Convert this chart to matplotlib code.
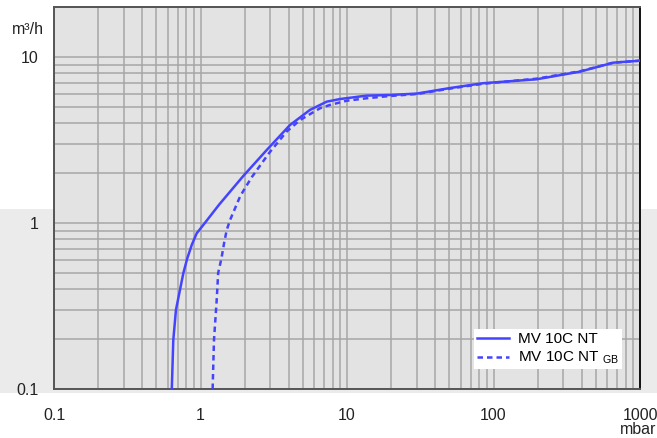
import matplotlib
matplotlib.use("Agg")
import matplotlib.pyplot as plt
from matplotlib.patches import Rectangle
from matplotlib.ticker import LogLocator, FixedLocator, NullFormatter

plt.rcParams['font.family'] = ['Liberation Sans', 'DejaVu Sans']

# pressure (mbar) vs pumping speed (m3/h)
nt_p = [0.637, 0.652, 0.68, 0.764, 0.812, 0.871, 0.942, 1.045, 1.34, 1.96, 2.83, 4.08,
        5.59, 7.27, 8.96, 13.6, 19.6, 30, 50.5, 85, 197, 389, 657, 1000]
nt_s = [0.1, 0.197, 0.30, 0.5, 0.612, 0.737, 0.867, 0.973, 1.29, 1.92, 2.75, 3.89,
        4.80, 5.38, 5.58, 5.85, 5.9, 6.02, 6.5, 6.95, 7.34, 8.16, 9.24, 9.5]

gb_p = [1.21, 1.236, 1.29, 1.32, 1.39, 1.45, 1.51, 1.59, 1.86, 2.01, 2.25, 2.95,
        3.87, 4.78, 6.54, 7.65, 9.95, 13.6, 19.6, 30, 50.5, 85, 197, 389, 657, 1000]
gb_s = [0.1, 0.197, 0.344, 0.5, 0.612, 0.76, 0.907, 1.04, 1.44, 1.62, 1.90, 2.65,
        3.55, 4.17, 4.91, 5.14, 5.45, 5.64, 5.82, 5.98, 6.45, 6.9, 7.4, 8.2, 9.24, 9.5]

x_ticks = [0.1, 1, 10, 100, 1000]
x_labels = ['0.1', '1', '10', '100', '1000']
y_ticks = [0.1, 1, 10]
y_labels = ['0.1', '1', '10']

line_color = '#4444ff'
grid_color = '#a6a6a6'

fig = plt.figure(figsize=(6.57, 4.38), dpi=100)
# light band behind the lower half of the chart
fig.patches.append(Rectangle((0, 45.3 / 438), 1, 183.7 / 438, transform=fig.transFigure,
                             facecolor='#ebebeb', edgecolor='none', zorder=-1))

ax = fig.add_axes([54 / 657, 49 / 438, 586 / 657, 382 / 438])
ax.set_facecolor('#e3e3e3')
ax.set_xscale('log')
ax.set_yscale('log')
ax.set_xlim(0.1, 1000)
ax.set_ylim(0.1, 20)

ax.plot(nt_p, nt_s, color=line_color, lw=1.8, label='MV 10C NT', zorder=3)
ax.plot(gb_p, gb_s, color=line_color, lw=1.8, linestyle=(0, (2.2, 1.6)),
        label=r'MV 10C NT $\mathregular{_{GB}}$', zorder=3)

ax.xaxis.set_major_locator(FixedLocator(x_ticks))
ax.set_xticklabels(x_labels)
ax.yaxis.set_major_locator(FixedLocator(y_ticks))
ax.set_yticklabels(y_labels)
ax.xaxis.set_minor_locator(LogLocator(base=10, subs=range(2, 10), numticks=20))
ax.yaxis.set_minor_locator(LogLocator(base=10, subs=range(2, 10), numticks=20))
ax.xaxis.set_minor_formatter(NullFormatter())
ax.yaxis.set_minor_formatter(NullFormatter())
ax.tick_params(which='both', length=0, labelsize=11.5, colors='#222222')
ax.tick_params(axis='x', pad=14)
ax.tick_params(axis='y', pad=11)
ax.grid(True, which='both', color=grid_color, lw=1.1)
ax.set_axisbelow(True)

for s in ax.spines.values():
    s.set_color('#555555')
    s.set_linewidth(1.4)
ax.spines['right'].set_color('#111111')

fig.text(44 / 657, 1 - 30 / 438, 'm³/h', ha='right', va='center', fontsize=11.5, color='#222222')
fig.text(656 / 657, 1 - 430 / 438, 'mbar', ha='right', va='center', fontsize=11.5, color='#222222')

leg = ax.legend(loc='upper left', bbox_to_anchor=(474 / 657, 1 - 329 / 438),
                bbox_transform=fig.transFigure, borderaxespad=0, fontsize=11,
                handlelength=2.1, handletextpad=0.6, labelspacing=0.25,
                borderpad=0.2, fancybox=False, framealpha=1)
leg.get_frame().set_facecolor('white')
leg.get_frame().set_edgecolor('none')

fig.savefig('out.png', dpi=100)
